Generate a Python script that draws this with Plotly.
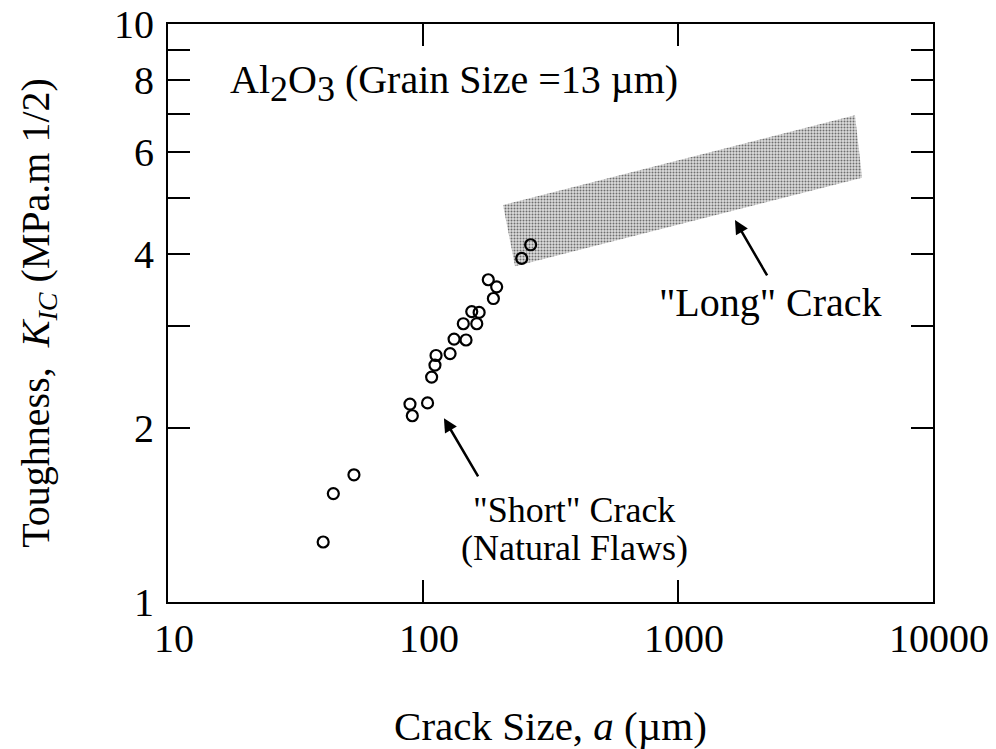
import numpy as np
import plotly.graph_objects as go

# Indentation (short crack) toughness measurements, natural flaws
crack_size_um = [40.6, 44.5, 53.6, 88.9, 90.8, 104.2, 108.1, 111.4, 112.5, 127.7,
                 132.4, 147.5, 143.9, 155.3, 166.0, 162.5, 180.3, 194.5, 188.8,
                 243.8, 264.3]
toughness = [1.27, 1.54, 1.66, 2.20, 2.10, 2.21, 2.45, 2.57, 2.67, 2.69,
             2.85, 2.84, 3.03, 3.18, 3.17, 3.03, 3.61, 3.51, 3.35,
             3.93, 4.15]

# Long-crack band outline (corners, going round)
band_a = [206, 4943, 5272, 229.6, 206]
band_k = [4.86, 6.95, 5.42, 3.81, 4.86]

x_ticks = [10, 100, 1000, 10000]
x_tick_text = ["10", "100", "1000", "10000"]
y_ticks = [1, 2, 3, 4, 5, 6, 7, 8, 9, 10]
y_tick_text = ["1", "2", "", "4", "", "6", "", "8", "", "10"]

FONT = "Liberation Serif"
SIZE = 40

fig = go.Figure()

fig.add_trace(go.Scatter(
    x=band_a, y=band_k, mode="lines", fill="toself",
    line=dict(width=0, color="rgba(0,0,0,0)"),
    fillcolor="#c8c8c8",
    fillpattern=dict(shape=".", fgcolor="#6e6e6e", bgcolor="#dcdcdc",
                     size=3, solidity=0.35, fillmode="replace"),
    hoverinfo="skip", showlegend=False,
))

fig.add_trace(go.Scatter(
    x=crack_size_um, y=toughness, mode="markers",
    marker=dict(symbol="circle-open", size=11, color="black",
                line=dict(width=2.2, color="black")),
    showlegend=False,
))

lg = np.log10
txt = dict(family=FONT, size=SIZE, color="black")
note = dict(family=FONT, size=36, color="black")
full_sub = '<sub><span style="font-size:{}px">{{}}</span></sub>'.format(SIZE - 4)

annotations = [
    dict(x=lg(17.2), y=lg(7.91), xref="x", yref="y", xanchor="left",
         text="Al" + full_sub.format("2") + "O" + full_sub.format("3")
              + " (Grain Size =13 µm)",
         showarrow=False, font=txt),
    dict(x=lg(2296), y=lg(3.30), xref="x", yref="y",
         text="\"Long\" Crack", showarrow=False, font=txt),
    dict(x=lg(391), y=lg(1.445), xref="x", yref="y",
         text="\"Short\" Crack", showarrow=False, font=note),
    dict(x=lg(391), y=lg(1.24), xref="x", yref="y",
         text="(Natural Flaws)", showarrow=False, font=note),
    # arrows
    dict(x=lg(120.8), y=lg(2.08), xref="x", yref="y",
         ax=lg(165.8), ay=lg(1.64), axref="x", ayref="y",
         text="", showarrow=True, arrowhead=2, arrowsize=1.1,
         arrowwidth=2.5, arrowcolor="black"),
    dict(x=lg(1673), y=lg(4.58), xref="x", yref="y",
         ax=lg(2254), ay=lg(3.65), axref="x", ayref="y",
         text="", showarrow=True, arrowhead=2, arrowsize=1.1,
         arrowwidth=2.5, arrowcolor="black"),
]

fig.update_layout(
    width=996, height=749,
    margin=dict(l=168, r=63, t=24, b=147),
    paper_bgcolor="white", plot_bgcolor="white",
    font=dict(family=FONT, size=SIZE, color="black"),
    annotations=annotations,
    xaxis=dict(
        type="log", range=[1, 4], automargin=False,
        tickvals=x_ticks, ticktext=x_tick_text,
        ticks="inside", ticklen=22, tickwidth=2, tickcolor="black",
        showline=True, linewidth=2, linecolor="black", mirror="ticks",
        showgrid=False, zeroline=False, ticklabelshift=6,
        tickfont=dict(family=FONT, size=SIZE),
        title=dict(text="Crack Size, <i>a</i> (µm)", standoff=56,
                   font=dict(family=FONT, size=41)),
    ),
    yaxis=dict(
        type="log", range=[0, 1], automargin=False,
        tickvals=y_ticks, ticktext=y_tick_text,
        ticks="inside", ticklen=22, tickwidth=2, tickcolor="black",
        showline=True, linewidth=2, linecolor="black", mirror="ticks",
        showgrid=False, zeroline=False, ticklabelstandoff=4,
        tickfont=dict(family=FONT, size=SIZE),
        title=dict(text="Toughness,  <i>K<sub>IC</sub></i> (MPa.m 1/2)",
                   standoff=52, font=dict(family=FONT, size=SIZE)),
    ),
)

fig.write_html("out.html")
